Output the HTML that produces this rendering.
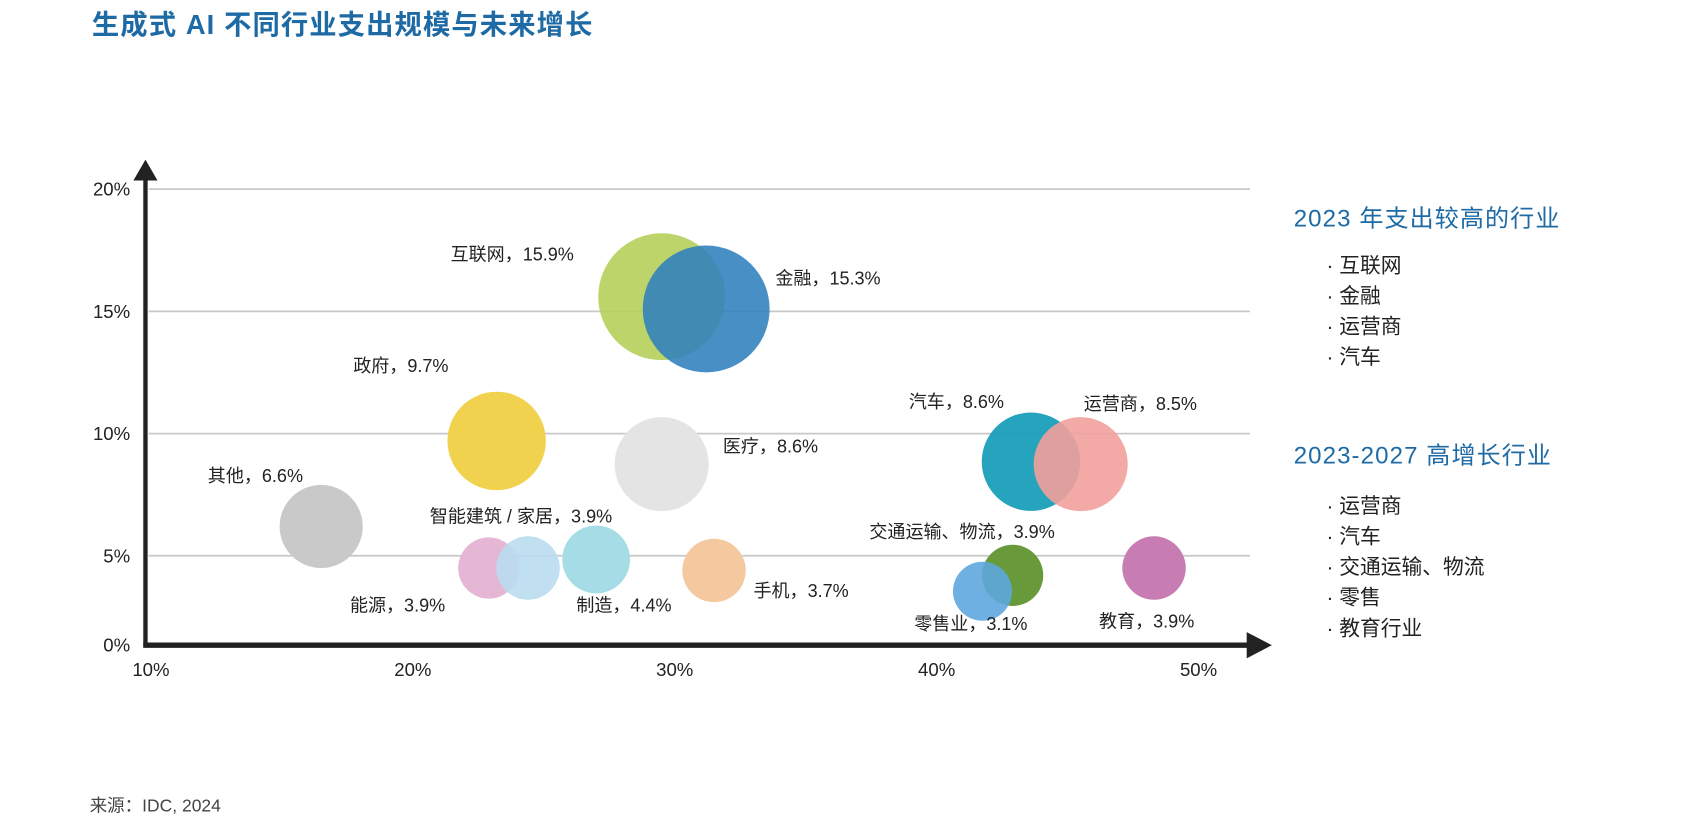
<!DOCTYPE html>
<html><head><meta charset="utf-8"><style>
html,body{margin:0;padding:0;background:#fff;}
svg{display:block;font-family:"Liberation Sans","Noto Sans CJK SC",sans-serif;}
</style></head><body>
<svg id="chart" width="1706" height="824" viewBox="0 0 1560 753.5" xmlns="http://www.w3.org/2000/svg">
<text x="84" y="31" font-size="25" font-weight="bold" fill="#1d6aa5" letter-spacing="1">生成式 AI 不同行业支出规模与未来增长</text>
<g id="grid"></g>
<g id="bubbles"></g>
<g id="axes">
  <line x1="133" y1="592" x2="133" y2="160" stroke="#222" stroke-width="4"/>
  <polygon points="122,165 133,146 144,165" fill="#222"/>
  <line x1="131" y1="590" x2="1145" y2="590" stroke="#222" stroke-width="5"/>
  <polygon points="1140,578 1163,590 1140,602" fill="#222"/>
</g>
<g id="ticks" font-size="17" fill="#222"></g>
<g font-size="16.5" fill="#222">
  <text x="412" y="238">互联网，15.9%</text>
  <text x="709" y="260">金融，15.3%</text>
  <text x="323" y="340">政府，9.7%</text>
  <text x="661" y="414">医疗，8.6%</text>
  <text x="831" y="373">汽车，8.6%</text>
  <text x="991" y="375">运营商，8.5%</text>
  <text x="190" y="441">其他，6.6%</text>
  <text x="393" y="478">智能建筑 / 家居，3.9%</text>
  <text x="795" y="492">交通运输、物流，3.9%</text>
  <text x="320" y="559">能源，3.9%</text>
  <text x="527" y="559">制造，4.4%</text>
  <text x="689" y="546">手机，3.7%</text>
  <text x="836" y="576">零售业，3.1%</text>
  <text x="1005" y="574">教育，3.9%</text>
</g>
<g>
  <text x="1183" y="207" font-size="22" fill="#1d6aa5" letter-spacing="1">2023 年支出较高的行业</text>
  <g font-size="19" fill="#222">
    <text x="1213" y="249">· 互联网</text>
    <text x="1213" y="277">· 金融</text>
    <text x="1213" y="305">· 运营商</text>
    <text x="1213" y="333">· 汽车</text>
  </g>
  <text x="1183" y="424" font-size="22" fill="#1d6aa5" letter-spacing="1">2023-2027 高增长行业</text>
  <g font-size="19" fill="#222">
    <text x="1213" y="469">· 运营商</text>
    <text x="1213" y="497">· 汽车</text>
    <text x="1213" y="525">· 交通运输、物流</text>
    <text x="1213" y="553">· 零售</text>
    <text x="1213" y="581">· 教育行业</text>
  </g>
</g>
<text x="82" y="742" font-size="16" fill="#444">来源：IDC, 2024</text>
</svg>
<script>
const industries = ["其他","互联网","金融","政府","医疗","汽车","运营商","能源","智能建筑/家居","制造","手机","交通运输、物流","零售业","教育"];
const xValues = [16.5,29.5,31.2,23.2,29.5,43.6,45.5,22.9,24.4,27.0,31.5,42.9,41.75,48.3];
const yValues = [6.2,15.6,15.1,9.7,8.75,8.85,8.75,4.5,4.5,4.85,4.4,4.2,3.55,4.5];
const sizes = [38,58,58,45,43,45,43,28,29,31,29,28,27,29];
const colors = ["#c9c9c9","#b5cf5a","#2f7fbd","#f1d24f","#e4e4e4","#1a9fb9","#f2a09b","#e6b7d5","#b9dbef","#a5dce6","#f4c9a0","#68993a","#5ea7de","#c77db3"];
const opacities = [1,0.9,0.88,1,1,0.95,0.9,1,0.9,1,1,1,0.9,1];
const xTicks = [10,20,30,40,50];
const xTickLabels = ["10%","20%","30%","40%","50%"];
const yTicks = [5,10,15,20];
const yTickLabels = ["0%","5%","10%","15%","20%"];
const yLabelVals = [1.35,5,10,15,20];

function xs(v){return 138 + (v-10)*23.95;}
function ys(v){return 620 - v*22.35;}
const NS="http://www.w3.org/2000/svg";
const grid=document.getElementById('grid');
yTicks.forEach(t=>{
  const l=document.createElementNS(NS,'line');
  
  
  l.setAttribute('x1',136);l.setAttribute('x2',1143);
  l.setAttribute('y1',ys(t));l.setAttribute('y2',ys(t));
  l.setAttribute('stroke','#c8c8c8');l.setAttribute('stroke-width','1.6');
  grid.appendChild(l);
});
const ticks=document.getElementById('ticks');
xTicks.forEach((t,i)=>{
  const e=document.createElementNS(NS,'text');
  
  
  e.setAttribute('x',xs(t));e.setAttribute('y',618);e.setAttribute('text-anchor','middle');
  e.textContent=xTickLabels[i];ticks.appendChild(e);
});
yLabelVals.forEach((t,i)=>{
  const e=document.createElementNS(NS,'text');
  
  
  e.setAttribute('x',119);e.setAttribute('y',i===0?596:ys(t)+6);e.setAttribute('text-anchor','end');
  e.textContent=yTickLabels[i];ticks.appendChild(e);
});
const bub=document.getElementById('bubbles');
industries.forEach((n,i)=>{
  const c=document.createElementNS(NS,'circle');
  
  
  c.setAttribute('cx',xs(xValues[i]));c.setAttribute('cy',ys(yValues[i]));
  c.setAttribute('r',sizes[i]);c.setAttribute('fill',colors[i]);c.setAttribute('fill-opacity',opacities[i]);
  bub.appendChild(c);
});
</script>
</body></html>
